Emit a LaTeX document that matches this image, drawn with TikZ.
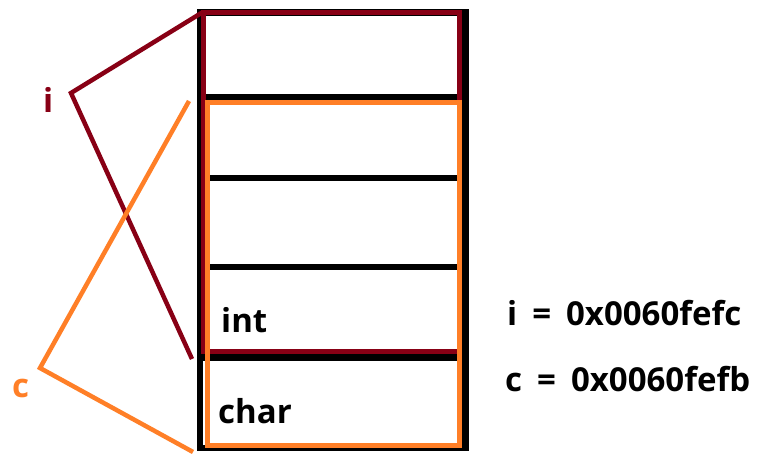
\documentclass[tikz,border=0pt]{standalone}
\usepackage{fontspec}
\setmainfont{Open Sans}
\definecolor{pdred}{RGB}{136,0,21}
\definecolor{porange}{RGB}{255,127,39}
\newcommand{\wsp}{\hspace{15pt}}
\tikzset{
  blk/.style={draw=black,line width=6.5pt},
  redl/.style={draw=pdred,line width=5.5pt},
  orl/.style={draw=porange,line width=5.5pt},
  redd/.style={draw=pdred,line width=4.5pt,line join=miter},
  ord/.style={draw=porange,line width=4.5pt,line join=miter},
  lbl/.style={anchor=base west,inner sep=0pt,font=\fontsize{33}{36}\selectfont\bfseries},
}
\begin{document}
\begin{tikzpicture}[x=1pt,y=-1pt]
\useasboundingbox (0,0) rectangle (779,462);
% black memory column
\draw[blk] (200,12.5) rectangle (465.5,448);
\coordinate (l1) at (200,97.5);  \coordinate (r1) at (465.5,97.5);
\coordinate (l2) at (200,178);   \coordinate (r2) at (465.5,178);
\coordinate (l3) at (200,267);   \coordinate (r3) at (465.5,267);
\coordinate (l4) at (200,357.5); \coordinate (r4) at (465.5,357.5);
\draw[blk] (l1) -- (r1);
\draw[blk] (l2) -- (r2);
\draw[blk] (l3) -- (r3);
\draw[blk] (l4) -- (r4);
% dark red box (int i)
\draw[redl] (203.5,12.5) rectangle (459.5,351.5);
% orange box (char c)
\draw[orl] (207.5,102.5) rectangle (459.5,445.5);
% pointer labels
\node[lbl,text=pdred] (ilab) at (43,113) {i};
\node[lbl,text=porange] (clab) at (12,397) {c};
\coordinate (ia) at (71,93);
\coordinate (it) at (203,12);
\coordinate (ib) at (192,359);
\draw[redd] (it) -- (ia) -- (ib);
\coordinate (ca) at (40,368);
\coordinate (ct) at (189,101);
\coordinate (cb) at (193,452);
\draw[ord] (ct) -- (ca) -- (cb);
% texts
\node[lbl] (int) at (221,333) {int};
\node[lbl] (char) at (218,423) {char};
\node[lbl] (iaddr) at (507,325) {i\wsp=\wsp0x0060fefc};
\node[lbl] (caddr) at (505,391) {c\wsp=\wsp0x0060fefb};
\end{tikzpicture}
\end{document}
